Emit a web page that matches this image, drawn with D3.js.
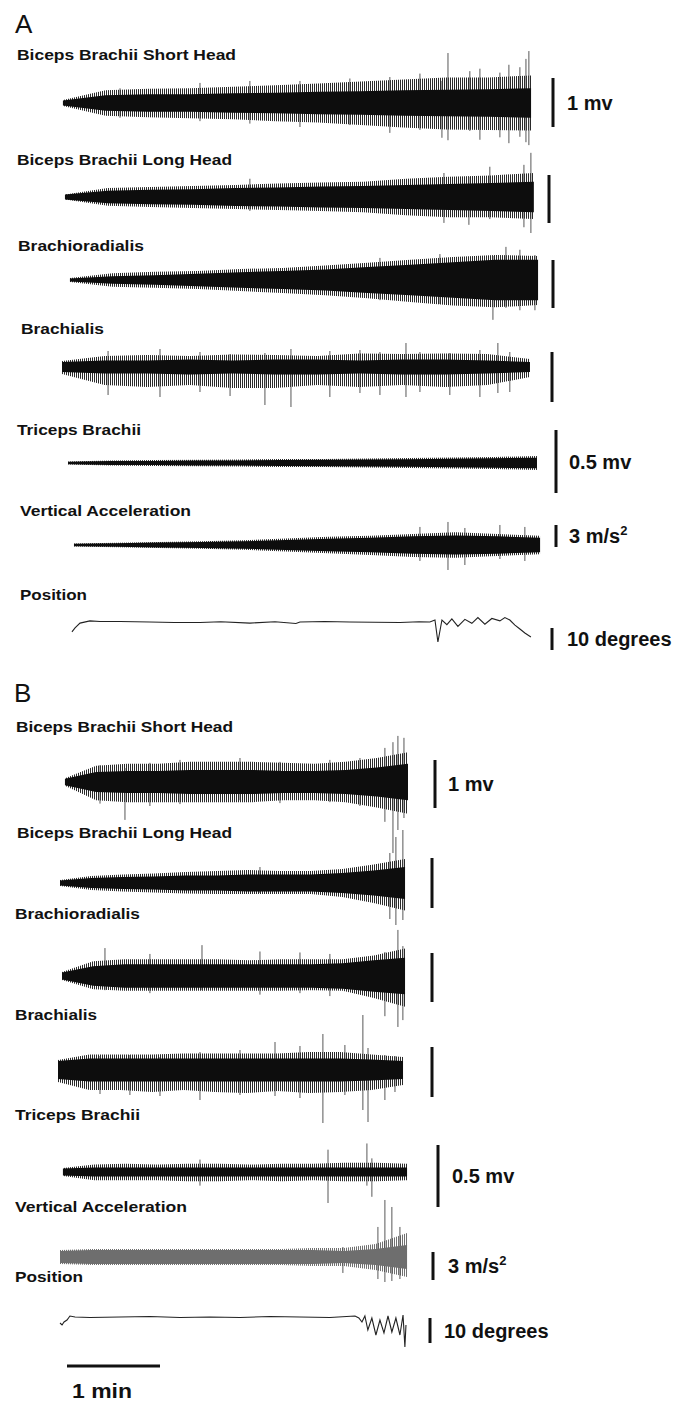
<!DOCTYPE html>
<html>
<head>
<meta charset="utf-8">
<script src="https://cdn.jsdelivr.net/npm/d3@7"></script>
<style>
  body { margin: 0; background: #fff; }
  text { font-family: "Liberation Sans", Arial, sans-serif; }
</style>
</head>
<body>
<svg id="fig" width="700" height="1403"></svg>
<script>
// channel names and scale bar values
const channels = ["Biceps Brachii Short Head", "Biceps Brachii Long Head", "Brachioradialis",
  "Brachialis", "Triceps Brachii", "Vertical Acceleration", "Position"]
const scaleValues = [1, 1, 1, 1, 0.5, 3, 10]
const scaleLabels = ["1 mv", null, null, null, "0.5 mv", "3 m/s²", "10 degrees"]
const timeBarSeconds = 60
const timeBarLabel = "1 min"

// recording span of each trace (s)
const startA = [3.2, 4.5, 7.7, 2.6, 6.5, 10.3]
const endA = [305.2, 307, 309.7, 304.5, 309, 311]
const startB = [4.5, 1.3, 2.6, 0, 3.2, 1.3]
const endB = [225.8, 223.9, 223.9, 222.6, 225.2, 225.2]

// envelope, 12 evenly spaced readings each (mV or m/s2)
const coreA = [
  [0.05,0.16,0.18,0.18,0.2,0.21,0.23,0.24,0.26,0.27,0.28,0.3],
  [0.05,0.13,0.15,0.16,0.19,0.2,0.22,0.23,0.25,0.27,0.29,0.32],
  [0.03,0.08,0.1,0.13,0.16,0.19,0.22,0.27,0.32,0.37,0.42,0.42],
  [0.1,0.13,0.13,0.15,0.13,0.15,0.15,0.13,0.15,0.15,0.13,0.1],
  [0.01,0.015,0.016,0.02,0.02,0.024,0.025,0.028,0.03,0.034,0.038,0.042],
  [0.18,0.25,0.33,0.42,0.5,0.68,0.85,1.0,1.18,1.3,1.18,1.0]
]
const upA = [
  [0.06,0.26,0.29,0.3,0.33,0.36,0.4,0.44,0.48,0.52,0.52,0.56],
  [0.05,0.19,0.21,0.23,0.25,0.28,0.3,0.32,0.38,0.42,0.45,0.5],
  [0.04,0.14,0.17,0.19,0.23,0.25,0.3,0.36,0.42,0.48,0.52,0.5],
  [0.12,0.22,0.24,0.22,0.25,0.24,0.22,0.27,0.26,0.27,0.26,0.16],
  [0.012,0.02,0.024,0.026,0.028,0.032,0.032,0.036,0.04,0.044,0.048,0.056],
  [0.2,0.32,0.4,0.52,0.64,0.88,1.12,1.26,1.5,1.75,1.5,1.26]
]
const downA = [
  [0.06,0.26,0.29,0.31,0.33,0.37,0.4,0.45,0.5,0.54,0.55,0.56],
  [0.05,0.18,0.21,0.23,0.25,0.27,0.29,0.32,0.38,0.42,0.42,0.46],
  [0.04,0.14,0.16,0.19,0.23,0.27,0.32,0.38,0.46,0.53,0.57,0.52],
  [0.14,0.36,0.4,0.36,0.42,0.42,0.36,0.4,0.36,0.4,0.36,0.2],
  [0.012,0.02,0.024,0.026,0.028,0.032,0.032,0.036,0.04,0.044,0.048,0.056],
  [0.2,0.32,0.4,0.52,0.64,0.88,1.12,1.36,1.62,1.75,1.5,1.26]
]
const coreB = [
  [0.07,0.21,0.23,0.23,0.25,0.25,0.25,0.23,0.23,0.25,0.3,0.38],
  [0.05,0.1,0.12,0.13,0.15,0.15,0.17,0.17,0.17,0.2,0.25,0.32],
  [0.07,0.2,0.24,0.24,0.24,0.24,0.24,0.24,0.24,0.26,0.32,0.37],
  [0.18,0.23,0.23,0.23,0.23,0.23,0.23,0.23,0.23,0.23,0.21,0.18],
  [0.028,0.036,0.036,0.036,0.036,0.036,0.036,0.036,0.036,0.036,0.036,0.036],
  [0.64,0.75,0.75,0.75,0.75,0.75,0.75,0.75,0.75,0.64,0.86,1.29]
]
const upB = [
  [0.08,0.34,0.38,0.38,0.42,0.42,0.42,0.4,0.38,0.42,0.5,0.62],
  [0.06,0.14,0.17,0.19,0.22,0.24,0.26,0.24,0.24,0.28,0.37,0.48],
  [0.08,0.3,0.34,0.34,0.34,0.34,0.32,0.34,0.34,0.34,0.42,0.56],
  [0.2,0.31,0.31,0.31,0.33,0.33,0.33,0.33,0.36,0.36,0.31,0.26],
  [0.032,0.06,0.066,0.06,0.066,0.066,0.06,0.066,0.066,0.074,0.074,0.066],
  [0.75,0.86,0.86,0.86,0.86,0.86,0.86,0.86,0.96,0.96,1.39,2.57]
]
const downB = [
  [0.08,0.38,0.42,0.42,0.42,0.42,0.42,0.38,0.38,0.42,0.53,0.66],
  [0.06,0.14,0.17,0.19,0.21,0.22,0.22,0.22,0.22,0.28,0.4,0.55],
  [0.08,0.27,0.3,0.3,0.3,0.3,0.3,0.3,0.29,0.3,0.45,0.63],
  [0.24,0.4,0.4,0.44,0.4,0.44,0.46,0.42,0.46,0.44,0.4,0.3],
  [0.032,0.066,0.066,0.066,0.074,0.074,0.066,0.074,0.066,0.074,0.074,0.066],
  [0.75,0.86,0.86,0.86,0.86,0.86,0.86,0.86,0.96,0.96,1.39,2.14]
]

// single large deflections: [trace, time s, up, down]
const spikesA = [
  [0,40,0.3,0.3],[0,91.6,0.41,0.37],[0,123.8,0.45,0.42],[0,156.1,0.45,0.49],[0,188.3,0.5,0.45],
  [0,214.1,0.53,0.61],[0,233.5,0.6,0.55],[0,247.7,0.45,0.71],[0,251.6,1.02,0.76],[0,265.7,0.65,0.57],
  [0,272.2,0.7,0.75],[0,285.1,0.62,0.7],[0,290.9,0.78,0.82],[0,298,0.73,0.69],[0,301.9,0.9,0.8],[0,303.8,1.06,0.86],
  [1,123.8,0.38,0.29],[1,249,0.5,0.54],[1,265.1,0.42,0.58],[1,278.6,0.63,0.46],[1,300.6,0.67,0.63],[1,305.1,0.92,0.75],
  [2,207.7,0.46,0.42],[2,246.4,0.54,0.5],[2,280.6,0.5,0.83],[2,289,0.69,0.58],[2,298,0.63,0.63],[2,307.7,0.52,0.63],
  [3,32.3,0.32,0.56],[3,65.8,0.36,0.6],[3,91.6,0.3,0.5],[3,111,0.26,0.58],[3,133.5,0.28,0.76],[3,150.3,0.36,0.8],
  [3,175.4,0.32,0.6],[3,194.8,0.34,0.52],[3,207.7,0.3,0.56],[3,224.5,0.48,0.6],[3,233.5,0.3,0.5],
  [3,252.8,0.28,0.56],[3,272.2,0.34,0.6],[3,283.8,0.48,0.52],[3,291.5,0.3,0.5],
  [5,233.5,2.46,2.18],[5,251.6,3.14,3.41],[5,262.5,2.32,2.73],[5,285.1,2.73,1.91],[5,301.2,2.46,2.18]
]
const spikesB = [
  [0,27.1,0.35,0.45],[0,43.2,0.29,0.79],[0,59.3,0.4,0.5],[0,78.7,0.46,0.46],[0,117.4,0.5,0.38],
  [0,143.2,0.42,0.44],[0,175.4,0.46,0.42],[0,194.8,0.5,0.5],[0,210.9,0.71,0.83],
  [0,216.1,0.83,1.48],[0,219.3,0.96,1.0],[0,223.2,0.92,0.75],
  [1,130.3,0.32,0.2],[1,214.1,0.6,0.72],[1,218,0.92,0.84],[1,222.5,1.06,0.74],
  [2,30.3,0.57,0.29],[2,59.3,0.45,0.35],[2,92.9,0.63,0.29],[2,130.3,0.5,0.38],[2,156.1,0.48,0.35],
  [2,175.4,0.45,0.41],[2,210.9,0.49,0.82],[2,219.3,0.94,1.04],[2,222.5,0.61,0.9],
  [3,27.1,0.28,0.48],[3,46.4,0.3,0.5],[3,65.8,0.26,0.52],[3,91.6,0.36,0.6],[3,117.4,0.4,0.5],[3,140,0.56,0.52],
  [3,156.1,0.48,0.56],[3,170.9,0.72,1.06],[3,185.1,0.5,0.5],[3,196.7,1.1,0.8],[3,200,0.44,1.04],
  [3,210.9,0.3,0.6],[3,217.4,0.28,0.44],
  [4,91.6,0.1,0.11],[4,174.2,0.18,0.25],[4,199.3,0.23,0.11],[4,202.5,0.11,0.2],
  [5,183.8,1.07,1.71],[5,206.4,3.22,2.36],[5,210.9,6.11,2.68],[5,215.4,5.36,2.57],[5,220.6,3.22,2.36]
]

// elbow position traces (s, degrees)
const posTimeA = [9,11,14.2,20.6,27.1,40,59.3,75,91.6,105,123.8,140,153.5,156.1,172,188.3,204,220.6,233,239.9,
  243.2,245.1,247.7,250.9,254.1,258,262.5,267,270.9,275.4,279.9,285.1,288.3,291.5,294.8,298,301.2,305.1]
const posDegA = [-4.5,-2.7,-0.5,0.5,0.2,0.2,0,-0.2,-0.2,0.1,-0.5,0.1,-0.7,0,0.2,0,-0.1,-0.2,0.1,0,
  0.9,-9.1,0.9,-1.2,1.4,-2,1.2,-0.6,2,-1,1.6,0.5,2,0.9,-1.4,-3.2,-5,-6.8]
const posTimeB = [1.3,2.6,3.9,5.8,7.7,11,20.6,40,59.3,78.7,98,117.4,136.7,156.1,175.4,191.6,194.1,196.1,198,199.9,
  202.5,205.1,207.7,210.3,212.9,215.4,218,220.6,222.6,223.8,224.5]
const posDegB = [-2.4,-3.2,-2,-1.2,0.4,0,-0.2,0,0.2,-0.2,0,-0.2,0.2,0,-0.2,0.4,-0.4,-2,0.4,-5.2,
  -0.4,-7.2,-1.2,-6.4,0.4,-6,-0.4,-7.2,0.8,-12,-3.2]

// ---------- layout ----------
const pxPerMinute = 93
const x = d3.scaleLinear().domain([0, timeBarSeconds]).range([58, 58 + pxPerMinute])

const layoutA = {
  letter: [15, 33],
  labelX: [17, 17, 18, 21, 17, 20, 20],
  labelY: [60, 165, 251, 334, 435, 516, 600],
  labelW: [219, 215, 126, 83, 124, 171, 67],
  center: [103, 197, 280, 367, 463, 545, 622],
  gain: [49, 48, 48, 50, 126, 7.33, 2.2],
  barX: [553, 549, 553, 552, 556, 556, 552],
  barTop: [78, 175, 260, 352, 430, 525, 628],
  textX: [567, 0, 0, 0, 569, 569, 567]
}
const layoutB = {
  letter: [14, 702],
  labelX: [16, 17, 15, 15, 15, 15, 15],
  labelY: [732, 838, 919, 1020, 1120, 1212, 1282],
  labelW: [217, 215, 125, 82, 125, 172, 68],
  center: [782, 883, 976, 1070, 1172, 1257, 1317],
  gain: [48, 50, 49, 50, 124, 9.33, 2.5],
  barX: [435, 432, 432, 432, 438, 433, 430],
  barTop: [760, 858, 953, 1047, 1145, 1252, 1318],
  textX: [448, 0, 0, 0, 452, 448, 444]
}

const svg = d3.select("#fig")

// vertical hatching, to look like the densely packed EMG deflections
const defs = svg.append("defs")
function hatch(id, color, step) {
  const p = defs.append("pattern")
    .attr("id", id)
    .attr("patternUnits", "userSpaceOnUse")
    .attr("width", step).attr("height", 8)
  p.append("rect").attr("width", 1).attr("height", 8).attr("fill", color)
}
hatch("emg", "#2a2a2a", 2)
hatch("emgGrey", "#707070", 2)

function drawPanel(letter, L, start, end, core, up, down, spikes, posT, posV) {
  const g = svg.append("g")

  g.append("text")
    .attr("x", L.letter[0]).attr("y", L.letter[1])
    .attr("font-size", 26).attr("fill", "#111")
    .text(letter)

  const ys = channels.map((c, i) => d3.scaleLinear()
    .domain([-1, 1])
    .range([L.center[i] + L.gain[i], L.center[i] - L.gain[i]]))

  // channel labels
  g.selectAll("text.lab")
    .data(channels)
    .enter()
    .append("text")
    .attr("class", "lab")
    .attr("x", (d, i) => L.labelX[i])
    .attr("y", (d, i) => L.labelY[i])
    .attr("font-size", 15)
    .attr("font-weight", "bold")
    .attr("fill", "#111")
    .attr("textLength", (d, i) => L.labelW[i])
    .attr("lengthAdjust", "spacingAndGlyphs")
    .text(d => d)

  // emg + acceleration traces
  core.forEach((c, i) => {
    const n = c.length
    const pts = c.map((v, k) => ({
      t: start[i] + k * (end[i] - start[i]) / (n - 1),
      core: v, up: up[i][k], down: down[i][k]
    }))
    const y = ys[i]
    const outer = d3.area()
      .x(d => x(d.t))
      .y0(d => y(-d.down))
      .y1(d => y(d.up))
    const inner = d3.area()
      .x(d => x(d.t))
      .y0(d => y(-d.core))
      .y1(d => y(d.core))
    const grey = (letter === "B" && i === 5)

    g.append("path")
      .attr("d", outer(pts))
      .attr("fill", grey ? "url(#emgGrey)" : "url(#emg)")

    g.selectAll(null)
      .data(spikes.filter(s => s[0] === i))
      .enter()
      .append("line")
      .attr("x1", d => x(d[1])).attr("x2", d => x(d[1]))
      .attr("y1", d => y(d[2])).attr("y2", d => y(-d[3]))
      .attr("stroke", "#444")
      .attr("stroke-width", 0.9)

    g.append("path")
      .attr("d", inner(pts))
      .attr("fill", grey ? "#6e6e6e" : "#0d0d0d")
  })

  // position trace
  const yp = ys[6]
  const line = d3.line()
    .x(d => x(d[0]))
    .y(d => yp(d[1]))
  g.append("path")
    .attr("d", line(posT.map((t, k) => [t, posV[k]])))
    .attr("fill", "none")
    .attr("stroke", "#222")
    .attr("stroke-width", 1.1)

  // scale bars
  channels.forEach((c, i) => {
    const len = ys[i](0) - ys[i](scaleValues[i])
    g.append("line")
      .attr("x1", L.barX[i]).attr("x2", L.barX[i])
      .attr("y1", L.barTop[i]).attr("y2", L.barTop[i] + len)
      .attr("stroke", "#111")
      .attr("stroke-width", 3)
    if (scaleLabels[i]) {
      const txt = g.append("text")
        .attr("x", L.textX[i])
        .attr("y", L.barTop[i] + len / 2 + 7)
        .attr("font-size", 20)
        .attr("font-weight", "bold")
        .attr("fill", "#111")
      const parts = scaleLabels[i].split("²")
      txt.append("tspan").text(parts[0])
      if (parts.length > 1) {
        txt.append("tspan")
          .attr("font-size", 13)
          .attr("dy", -8)
          .text("2")
      }
    }
  })
}

drawPanel("A", layoutA, startA, endA, coreA, upA, downA, spikesA, posTimeA, posDegA)
drawPanel("B", layoutB, startB, endB, coreB, upB, downB, spikesB, posTimeB, posDegB)

// time bar
svg.append("line")
  .attr("x1", x(0) + 9).attr("x2", x(timeBarSeconds) + 9)
  .attr("y1", 1366).attr("y2", 1366)
  .attr("stroke", "#111")
  .attr("stroke-width", 3)
svg.append("text")
  .attr("x", 72).attr("y", 1398)
  .attr("font-size", 20)
  .attr("font-weight", "bold")
  .attr("fill", "#111")
  .attr("textLength", 60)
  .attr("lengthAdjust", "spacingAndGlyphs")
  .text(timeBarLabel)
</script>
</body>
</html>
